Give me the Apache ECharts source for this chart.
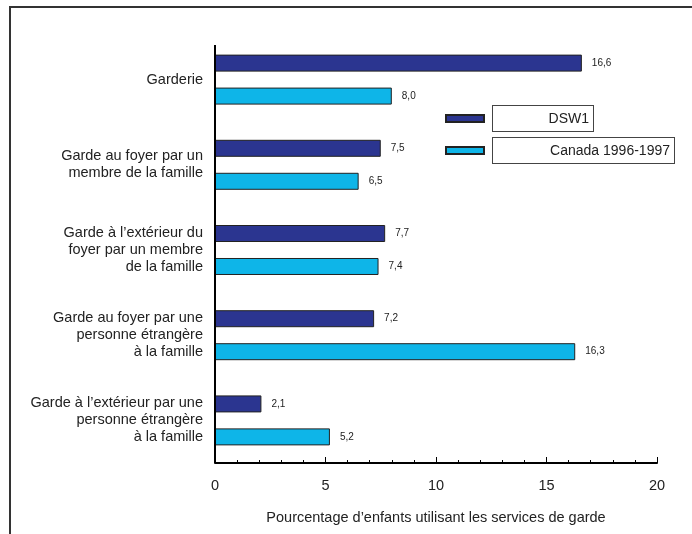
<!DOCTYPE html>
<html>
<head>
<meta charset="utf-8">
<script src="https://cdn.jsdelivr.net/npm/echarts@6/dist/echarts.min.js"></script>
<style>
  html, body { margin: 0; padding: 0; background: #ffffff; }
  #chart { width: 692px; height: 534px; }
</style>
</head>
<body>
<div id="chart"></div>
<script>
// Types de garde (de haut en bas)
const categories = [
  'Garderie',
  'Garde au foyer par un\nmembre de la famille',
  'Garde à l\u2019extérieur du\nfoyer par un membre\nde la famille',
  'Garde au foyer par une\npersonne étrangère\nà la famille',
  'Garde à l\u2019extérieur par une\npersonne étrangère\nà la famille'
];
const seriesNames = ['DSW1', 'Canada 1996-1997'];
const dsw1Values = [16.6, 7.5, 7.7, 7.2, 2.1];
const canadaValues = [8.0, 6.5, 7.4, 16.3, 5.2];
const xTicks = [0, 5, 10, 15, 20];
const xAxisTitle = 'Pourcentage d\u2019enfants utilisant les services de garde';

const FONT = 'Liberation Sans, Arial, Helvetica, sans-serif';
const TEXT = '#222222';
const DARK = '#2B3590';
const LIGHT = '#0EB5E8';

const fmt = v => v.toFixed(1).replace('.', ',');

const chart = echarts.init(document.getElementById('chart'), null, { renderer: 'canvas' });

function legendFor(name, x, y, boxW) {
  return {
    left: x, top: y,
    padding: 0,
    orient: 'vertical',
    data: [name],
    selectedMode: false,
    icon: 'rect',
    itemWidth: 38,
    itemHeight: 7,
    formatter: '{gap|}{box|{name}}',
    textStyle: {
      fontFamily: FONT,
      rich: {
        gap: { width: 4 },
        box: {
          width: boxW,
          height: 20,
          align: 'right',
          fontSize: 14,
          fontFamily: FONT,
          color: TEXT,
          borderColor: '#444',
          borderWidth: 1,
          padding: [3, 4, 2, 4],
          backgroundColor: '#fff'
        }
      }
    }
  };
}

const option = {
  backgroundColor: '#ffffff',
  animation: false,
  textStyle: { fontFamily: FONT, color: TEXT },
  grid: { left: 215, right: 35, top: 37, bottom: 71, containLabel: false },
  legend: [
    legendFor(seriesNames[0], 445, 105, 92),
    legendFor(seriesNames[1], 445, 137, 173)
  ],
  xAxis: {
    type: 'value',
    min: xTicks[0],
    max: xTicks[xTicks.length - 1],
    interval: 5,
    name: xAxisTitle,
    nameLocation: 'middle',
    nameGap: 47,
    nameTextStyle: { fontSize: 14.5, color: TEXT, fontFamily: FONT },
    axisLine: { show: true, lineStyle: { color: '#000', width: 2 } },
    axisTick: { show: true, inside: true, length: 6, lineStyle: { color: '#000', width: 1 } },
    minorTick: { show: true, splitNumber: 5, length: 3, lineStyle: { color: '#000', width: 1 } },
    splitLine: { show: false },
    axisLabel: { fontSize: 14.5, color: TEXT, margin: 15, fontFamily: FONT }
  },
  yAxis: {
    type: 'category',
    inverse: true,
    data: categories,
    axisLine: { show: false },
    axisTick: { show: false },
    axisLabel: {
      fontSize: 14.5, color: TEXT, margin: 12, align: 'right',
      lineHeight: 17, fontFamily: FONT
    }
  },
  series: [
    {
      name: seriesNames[0],
      type: 'bar',
      data: dsw1Values,
      barWidth: 17,
      barGap: '94%',
      itemStyle: { color: DARK, borderColor: '#222', borderWidth: 1 },
      label: {
        show: true, position: 'right', distance: 10,
        fontSize: 10, color: TEXT, fontFamily: FONT,
        formatter: p => fmt(p.value)
      }
    },
    {
      name: seriesNames[1],
      type: 'bar',
      data: canadaValues,
      barWidth: 17,
      barGap: '94%',
      itemStyle: { color: LIGHT, borderColor: '#222', borderWidth: 1 },
      label: {
        show: true, position: 'right', distance: 10,
        fontSize: 10, color: TEXT, fontFamily: FONT,
        formatter: p => fmt(p.value)
      }
    }
  ]
};

chart.setOption(option);

// Cadre de la page et axe vertical (l'axe commence un peu sous le haut de la grille)
const x0 = chart.convertToPixel({ xAxisIndex: 0 }, 0);
const yBottom = 534 - 71;
chart.setOption({
  graphic: [
    {
      type: 'polyline',
      shape: { points: [[10, 600], [10, 7], [700, 7]] },
      style: { stroke: '#333', lineWidth: 2, fill: null },
      silent: true
    },
    {
      type: 'line',
      shape: { x1: x0, y1: 45, x2: x0, y2: yBottom },
      style: { stroke: '#000', lineWidth: 2 },
      silent: true,
      z: 10
    }
  ]
});
</script>
</body>
</html>
